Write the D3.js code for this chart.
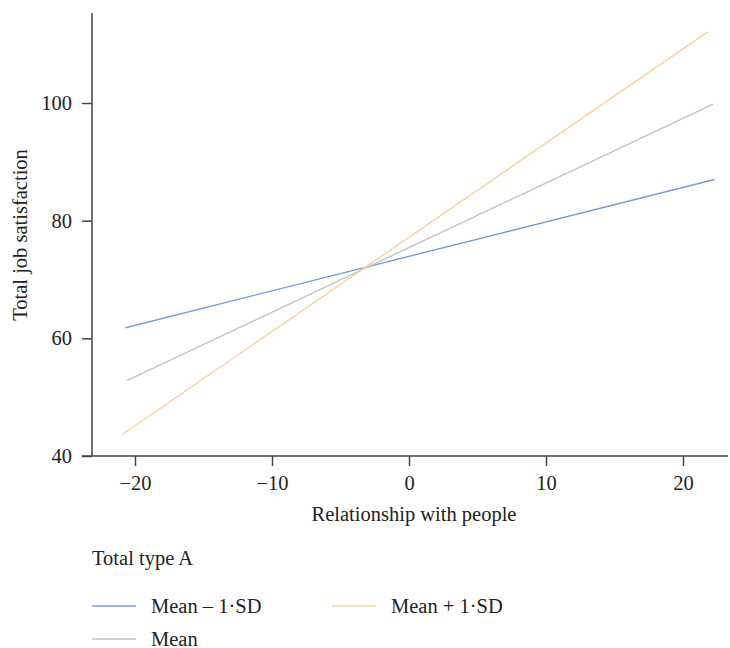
<!DOCTYPE html>
<html>
<head>
<meta charset="utf-8">
<script src="https://cdn.jsdelivr.net/npm/d3@7"></script>
<style>
  body { margin: 0; background: #fff; }
  text { font-family: "Liberation Serif", "Times New Roman", serif; fill: #222; }
</style>
</head>
<body>
<div id="viz"></div>
<script>
// simple slopes plot: job satisfaction vs relationship with people

// data (end points of each fitted line)
var seriesNames = ["Mean \u2013 1\u00b7SD", "Mean", "Mean + 1\u00b7SD"];
var seriesColors = ["#789ad6", "#c2c2c2", "#f3d29e"];
var xStart = [-20.7, -20.6, -20.9];
var xEnd = [22.3, 22.2, 21.8];
var yStart = [61.8, 52.8, 43.7];
var yEnd = [87.0, 99.8, 112.1];

var xTicks = [-20, -10, 0, 10, 20];
var yTicks = [40, 60, 80, 100];

var w = 730;
var h = 648;

var svg = d3.select("div#viz")
  .append("svg")
  .attr("width", w)
  .attr("height", h);

// scales
var x = d3.scaleLinear().domain([-20, 20]).range([135, 683]);
var y = d3.scaleLinear().domain([40, 100]).range([456, 103]);

var axisColor = "#444";
var fontSize = "20.5px";

// y axis
var yAxis = d3.axisLeft(y).tickValues(yTicks).tickSize(10).tickPadding(10);
var gy = svg.append("g")
  .attr("transform", "translate(92,0)")
  .call(yAxis);
gy.select(".domain").remove();
gy.selectAll(".tick line").attr("stroke", axisColor).attr("stroke-width", 1.5);
gy.selectAll(".tick text").style("font-size", fontSize).style("font-family", "Liberation Serif").attr("fill", "#222");

svg.append("line")
  .attr("x1", 92).attr("x2", 92)
  .attr("y1", y(115.3)).attr("y2", y(40))
  .attr("stroke", axisColor).attr("stroke-width", 1.5);

// x axis
var xAxis = d3.axisBottom(x).tickValues(xTicks).tickSize(10).tickPadding(9)
  .tickFormat(function (d) { return d < 0 ? "\u2212" + Math.abs(d) : d; });
var gx = svg.append("g")
  .attr("transform", "translate(0," + y(40) + ")")
  .call(xAxis);
gx.select(".domain").remove();
gx.selectAll(".tick line").attr("stroke", axisColor).attr("stroke-width", 1.5);
gx.selectAll(".tick text").style("font-size", fontSize).style("font-family", "Liberation Serif").attr("fill", "#222");

svg.append("line")
  .attr("x1", x(-23.9)).attr("x2", x(23.3))
  .attr("y1", y(40)).attr("y2", y(40))
  .attr("stroke", axisColor).attr("stroke-width", 1.5);

// lines
var lineData = seriesNames.map(function (name, i) {
  return { name: name, color: seriesColors[i], pts: [[xStart[i], yStart[i]], [xEnd[i], yEnd[i]]] };
});

var line = d3.line()
  .x(function (d) { return x(d[0]); })
  .y(function (d) { return y(d[1]); });

svg.selectAll("path.series")
  .data(lineData)
  .enter()
  .append("path")
  .attr("class", "series")
  .attr("d", function (d) { return line(d.pts); })
  .attr("fill", "none")
  .attr("stroke", function (d) { return d.color; })
  .attr("stroke-width", 1.4);

// axis titles
svg.append("text").text("Relationship with people")
  .attr("x", 414)
  .attr("y", 521)
  .style("font-size", fontSize)
  .style("text-anchor", "middle");

svg.append("text").text("Total job satisfaction")
  .attr("transform", "translate(27,235) rotate(-90)")
  .style("font-size", fontSize)
  .style("text-anchor", "middle");

// legend
svg.append("text").text("Total type A")
  .attr("x", 92)
  .attr("y", 565)
  .style("font-size", fontSize);

var legendPos = [[92, 606], [92, 639], [332, 606]];
var legend = svg.selectAll("g.legend")
  .data(lineData)
  .enter()
  .append("g")
  .attr("class", "legend")
  .attr("transform", function (d, i) {
    return "translate(" + legendPos[i][0] + "," + legendPos[i][1] + ")";
  });

legend.append("line")
  .attr("x1", 0).attr("x2", 44)
  .attr("y1", 0).attr("y2", 0)
  .attr("stroke", function (d) { return d.color; })
  .attr("stroke-width", 1.4);

legend.append("text").text(function (d) { return d.name; })
  .attr("x", 59)
  .attr("y", 6.5)
  .style("font-size", fontSize);
</script>
</body>
</html>
